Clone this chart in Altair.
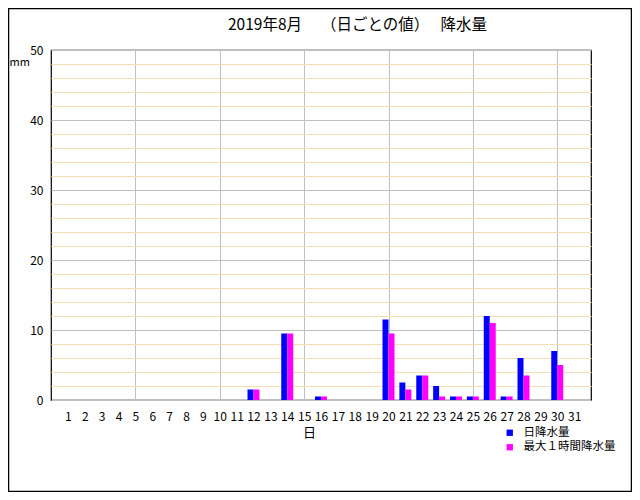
import altair as alt
import pandas as pd

days = list(range(1, 32))
daily = [0, 0, 0, 0, 0, 0, 0, 0, 0, 0, 0, 1.5, 0, 9.5, 0, 0.5, 0, 0, 0, 11.5,
         2.5, 3.5, 2.0, 0.5, 0.5, 12.0, 0.5, 6.0, 0, 7.0, 0]
max1h = [0, 0, 0, 0, 0, 0, 0, 0, 0, 0, 0, 1.5, 0, 9.5, 0, 0.5, 0, 0, 0, 9.5,
         1.5, 3.5, 0.5, 0.5, 0.5, 11.0, 0.5, 3.5, 0, 5.0, 0]
series_names = ["日降水量", "最大１時間降水量"]
series_colors = ["#0000ff", "#ff00ff"]
y_ticks = list(range(0, 51, 2))
title_text = ["2019年8月　 （日ごとの値）　 降水量"]

rows = []
for d, a, b in zip(days, daily, max1h):
    rows.append({"day": d, "series": series_names[0], "value": a, "slot": -1})
    rows.append({"day": d, "series": series_names[1], "value": b, "slot": 0})
df = pd.DataFrame(rows)

FONT = "Noto Sans CJK JP"
W = 0.355

bars = alt.Chart(df).transform_filter("datum.value > 0").transform_calculate(
    x1=f"datum.day + datum.slot * {W}",
    x2=f"datum.day + (datum.slot + 1) * {W}",
).mark_bar(strokeWidth=0).encode(
    x=alt.X("x1:Q", scale=alt.Scale(domain=[0, 32], nice=False, zero=False),
            axis=alt.Axis(values=days, title="日", grid=True, domain=False, ticks=False,
                          labelPadding=11, labelFontSize=12, labelFont=FONT,
                          labelColor="#000000", labelFlush=False,
                          gridColor="#c0c0c0",
                          gridOpacity=alt.condition("datum.value % 5 === 0", alt.value(1), alt.value(0)),
                          titleFont=FONT, titleFontSize=13, titleFontWeight="normal",
                          titleX=258, titleY=32, titleBaseline="middle", titleColor="#000000")),
    x2="x2:Q",
    y=alt.Y("value:Q", scale=alt.Scale(domain=[0, 50], nice=False),
            axis=alt.Axis(values=y_ticks, title="mm", grid=True, domain=False, ticks=False,
                          labelExpr="datum.value % 10 === 0 ? datum.label : ''",
                          labelPadding=8, labelFontSize=12, labelFont=FONT, labelColor="#000000",
                          labelFlush=False,
                          gridColor=alt.condition("datum.value % 10 === 0", alt.value("#c0c0c0"), alt.value("#f5deb3")),
                          titleAngle=0, titleX=-42, titleY=12, titleAlign="left",
                          titleBaseline="middle", titleFont=FONT, titleFontSize=11,
                          titleFontWeight="normal", titleColor="#000000")),
    y2=alt.datum(0),
    color=alt.Color("series:N", scale=alt.Scale(domain=series_names, range=series_colors),
                    legend=alt.Legend(title=None, orient="none", legendX=453, legendY=377,
                                      symbolType="square", symbolSize=40, symbolStrokeWidth=0,
                                      labelFont=FONT, labelFontSize=11.5, labelColor="#000000",
                                      labelOffset=8, rowPadding=1.5, padding=0)),
)

frame = alt.Chart(pd.DataFrame({"k": [0]})).mark_rect(
    fill=None, stroke="#000000", strokeWidth=1.5
).encode(
    x=alt.value(-42.5), x2=alt.value(580.5), y=alt.value(-41.5), y2=alt.value(441.5)
)

title = alt.Chart(pd.DataFrame({"t": title_text})).mark_text(
    align="left", baseline="middle", font=FONT, fontSize=15.5, color="#000000"
).encode(
    x=alt.value(177), y=alt.value(-25), text="t:N"
)

chart = alt.layer(frame, bars, title).properties(
    width=540, height=350,
    autosize=alt.AutoSizeParams(type="none"),
    padding={"left": 43, "top": 42, "right": 41, "bottom": 92},
    background="#ffffff",
).configure_view(stroke="#000000", strokeWidth=1.2)

chart.save("out.html", embed_options={"renderer": "svg", "actions": False})
